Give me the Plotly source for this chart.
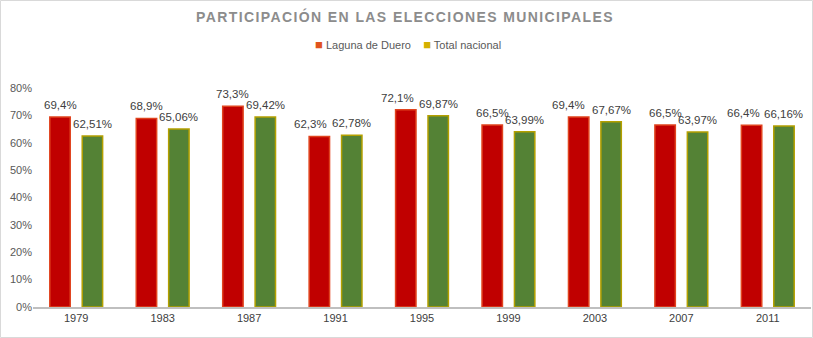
import plotly.graph_objects as go

years = ["1979", "1983", "1987", "1991", "1995", "1999", "2003", "2007", "2011"]
laguna = [69.4, 68.9, 73.3, 62.3, 72.1, 66.5, 69.4, 66.5, 66.4]
nacional = [62.51, 65.06, 69.42, 62.78, 69.87, 63.99, 67.67, 63.97, 66.16]
series_names = ["Laguna de Duero", "Total nacional"]
ytick_vals = [0, 10, 20, 30, 40, 50, 60, 70, 80]
ytick_text = [f"{v}%" for v in ytick_vals]
# horizontal nudges (px) of the Laguna labels, as placed in the original to avoid collisions
laguna_label_nudge = [0, 0, 0, -9, -8, 0, -10, 0, -8]

def fmt(v, d):
    return f"{v:.{d}f}".replace(".", ",") + "%"

fig = go.Figure()
fig.add_trace(go.Bar(
    x=years, y=laguna, name=series_names[0], showlegend=False,
    marker=dict(color="#C00000", line=dict(color="#E0431E", width=1.5)),
))
fig.add_trace(go.Bar(
    x=years, y=nacional, name=series_names[1], showlegend=False,
    marker=dict(color="#548235", line=dict(color="#B4A000", width=1.5)),
))

W, H = 813, 338
L, R, T, B = 33, 2, 88, 31
pw, ph = W - L - R, H - T - B
bargap = 0.25
slot = pw / len(years)
off = slot * (1 - bargap) / 4  # offset of each bar centre from category centre

annotations = []
for i, (a, b) in enumerate(zip(laguna, nacional)):
    annotations.append(dict(xref="x", yref="y", x=i, y=a, text=fmt(a, 1),
                            xshift=-off + laguna_label_nudge[i], yshift=4,
                            showarrow=False, yanchor="bottom",
                            font=dict(size=11.5, color="#404040")))
    annotations.append(dict(xref="x", yref="y", x=i, y=b, text=fmt(b, 2), xshift=off, yshift=4,
                            showarrow=False, yanchor="bottom",
                            font=dict(size=11.5, color="#404040")))

legend_text = ("<span style='color:#E0531E;font-size:13px'>■</span> " + series_names[0] +
               "    <span style='color:#D4B000;font-size:13px'>■</span> " + series_names[1])
annotations.append(dict(xref="paper", yref="paper", x=(408 - L) / pw, y=(H - B - 45) / ph,
                        text=legend_text, showarrow=False, xanchor="center", yanchor="middle",
                        font=dict(size=11, color="#595959")))

fig.update_layout(
    width=W, height=H,
    margin=dict(l=L, r=R, t=T, b=B),
    paper_bgcolor="white", plot_bgcolor="white",
    font=dict(family="Liberation Sans, Arial, sans-serif", size=11, color="#595959"),
    barmode="group", bargap=bargap, bargroupgap=0.37, showlegend=False,
    title=dict(text="<span style='letter-spacing:1.4px'>PARTICIPACIÓN EN LAS ELECCIONES MUNICIPALES</span>",
               x=(405 - L) / pw, xref="paper", xanchor="center", y=1 - 17 / H, yanchor="middle",
               font=dict(size=14, color="#8C8C8C", family="Liberation Sans, Arial, sans-serif", weight="bold")),
    xaxis=dict(type="category", range=[-0.5, len(years) - 0.5], autorange=False,
               showline=True, linecolor="#BFBFBF", linewidth=2, ticks="", showgrid=False,
               tickfont=dict(size=11, color="#404040")),
    yaxis=dict(range=[0, 80], tickvals=ytick_vals, ticktext=ytick_text, showgrid=False,
               zeroline=False, showline=False, ticks="", tickfont=dict(size=11, color="#595959")),
    annotations=annotations,
    shapes=[dict(type="rect", xref="paper", yref="paper",
                 x0=(0.5 - L) / pw, x1=(W - 0.5 - L) / pw,
                 y0=-(B - 0.5) / ph, y1=(H - B - 0.5) / ph,
                 line=dict(color="#D9D9D9", width=1), layer="below")],
)
fig.write_html("out.html")
